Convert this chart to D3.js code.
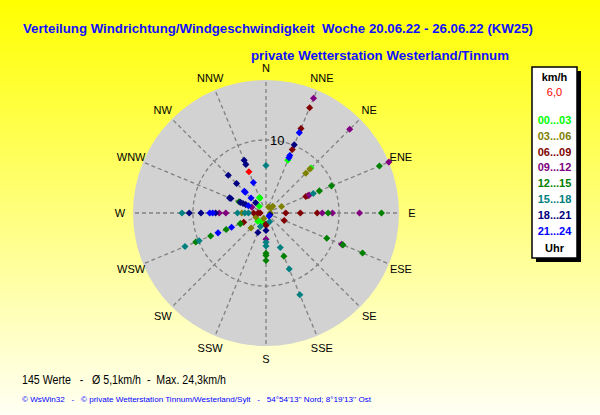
<!DOCTYPE html>
<html>
<head>
<meta charset="utf-8">
<script src="https://cdn.jsdelivr.net/npm/d3@7"></script>
<style>
  body { margin: 0; padding: 0; }
  svg { display: block; }
  text { font-family: "Liberation Sans", Arial, sans-serif; white-space: pre; }
</style>
</head>
<body>
<div id="viz"></div>
<script>
// compass directions, clockwise from N
var dirs = ["N","NNE","NE","ENE","E","ESE","SE","SSE","S","SSW","SW","WSW","W","WNW","NW","NNW"];

// wind speed (km/h) per direction, grouped by time of day
var h00_03 = [["NNE",7.8],["NE",8.7],["NNW",2.2],["NNW",2.3],["NW",1.3],["WSW",3.8],["SW",1.6],["SW",1.5],["SSW",1.3],["SSW",1.4]];
var h03_06 = [["NE",8.5],["NE",7.7],["ENE",2.3],["NNE",0.9],["NE",1.0],["NE",1.3],["W",3.3],["SW",2.9],["WSW",1.5],["E",0.6],["SSW",0.8]];
var h06_09 = [["NNE",15.6],["NNE",12.5],["NNE",9.4],["ENE",6.2],["ENE",5.9],["E",7.0],["E",4.7],["E",2.7],["ESE",2.7],
              ["W",1.7],["W",1.1],["W",0.8],["S",1.5],["S",1.7],["WSW",3.3]];
var h09_12 = [["NNE",17.0],["NE",16.2],["ENE",18.2],["ENE",6.4],["E",12.8],["E",9.1],["E",7.7],["ESE",11.2],["S",3.6],
              ["W",6.4],["W",5.5],["WNW",2.1]];
var h12_15 = [["ENE",16.8],["ENE",9.7],["ENE",7.9],["E",15.8],["E",8.5],["ESE",9.0],["ESE",11.4],["ESE",14.3],["SSE",6.4],
              ["S",5.5],["S",5.8],["S",6.5],["WSW",10.4],["WSW",8.2],["WSW",5.9],["WSW",3.8],["WNW",4.0]];
var h15_18 = [["N",6.5],["ENE",7.0],["SSE",5.1],["SSE",8.3],["SSE",12.1],["SSE",1.3],["S",4.0],["S",4.5],["SSW",2.0],
              ["W",11.5],["W",3.9],["W",2.9],["W",2.4],["WSW",12.0],["WSW",9.9]];
var h18_21 = [["NNE",10.1],["NNW",7.8],["NNW",7.2],["NW",7.3],["NW",5.7],["NW",2.0],["WNW",5.4],["WNW",5.2],["WNW",3.8],
              ["WNW",3.4],["WNW",3.0],["W",10.5],["W",8.9],["W",6.9],["SSW",2.9],["S",2.4],["ESE",0.6]];
var h21_24 = [["NNE",11.9],["NNE",8.5],["NNE",8.2],["NNW",4.5],["NW",4.2],["NW",4.0],["NW",2.9],["WNW",2.6],
              ["W",7.7],["W",7.3],["WSW",7.1],["WSW",5.1],["SE",0.6]];
var current = [["NNW",6.1]];

var classLabels = ["00...03","03...06","06...09","09...12","12...15","15...18","18...21","21...24"];
var classColors = ["#00ff00","#808000","#800000","#800080","#008000","#008080","#000080","#0000ff"];
var classData = [h00_03, h03_06, h06_09, h09_12, h12_15, h15_18, h18_21, h21_24];

var gridRings = [10];
var currentLabel = "6,0";
var title = "Verteilung Windrichtung/Windgeschwindigkeit  Woche 20.06.22 - 26.06.22 (KW25)";
var subtitle = "private Wetterstation Westerland/Tinnum";
var stats = "145 Werte   -   \u00d8 5,1km/h  -  Max. 24,3km/h";
var footer = "\u00a9 WsWin32   -   \u00a9 private Wetterstation Tinnum/Westerland/Sylt   -   54\u00b054'13'' Nord; 8\u00b019'13'' Ost";

var W = 600, H = 415;
var cx = 266, cy = 213, R = 133;

var svg = d3.select("#viz").append("svg").attr("width", W).attr("height", H);

var grad = svg.append("defs").append("linearGradient")
  .attr("id", "bg").attr("x1", 0).attr("y1", 0).attr("x2", 0).attr("y2", 1);
grad.append("stop").attr("offset", "0%").attr("stop-color", "#ffff00");
grad.append("stop").attr("offset", "100%").attr("stop-color", "#fffff4");
svg.append("rect").attr("width", W).attr("height", H).attr("fill", "url(#bg)");

// scales
var r = d3.scaleLinear().domain([0, 18.2]).range([0, R]).clamp(true);
var ang = d3.scaleLinear().domain([0, dirs.length]).range([0, 2 * Math.PI]);
function dirAngle(d) { return ang(dirs.indexOf(d)); }

var g = svg.append("g").attr("transform", "translate(" + cx + "," + cy + ")");

g.append("circle").attr("r", R).attr("fill", "#d2d2d2");

// grid
g.selectAll("line.spoke").data(dirs).enter().append("line")
  .attr("class", "spoke")
  .attr("x1", function(d) { return d3.pointRadial(dirAngle(d), 8)[0]; })
  .attr("y1", function(d) { return d3.pointRadial(dirAngle(d), 8)[1]; })
  .attr("x2", function(d) { return d3.pointRadial(dirAngle(d), R)[0]; })
  .attr("y2", function(d) { return d3.pointRadial(dirAngle(d), R)[1]; })
  .attr("stroke", "#808080").attr("stroke-width", 1.3).attr("stroke-dasharray", "4,3");

g.selectAll("circle.ring").data(gridRings).enter().append("circle")
  .attr("class", "ring")
  .attr("r", r).attr("fill", "none")
  .attr("stroke", "#808080").attr("stroke-width", 1.3).attr("stroke-dasharray", "4,3");

g.selectAll("text.ring").data(gridRings).enter().append("text")
  .attr("x", 4).attr("y", function(d) { return -r(d); })
  .attr("dy", "0.36em")
  .attr("font-size", 13).attr("fill", "#000")
  .text(function(d) { return d; });

// compass labels
g.selectAll("text.dir").data(dirs).enter().append("text")
  .attr("x", function(d) { return d3.pointRadial(dirAngle(d), 146)[0]; })
  .attr("y", function(d) { return d3.pointRadial(dirAngle(d), 146)[1] + (d === "N" ? 1 : 0); })
  .attr("dy", "0.36em").attr("text-anchor", "middle")
  .attr("font-size", 11).attr("fill", "#000")
  .text(function(d) { return d; });

// points
var dot = d3.symbol().type(d3.symbolSquare).size(25);
function plot(data, color) {
  g.append("g").selectAll("path").data(data).enter().append("path")
    .attr("d", dot)
    .attr("fill", color)
    .attr("transform", function(d) {
      var p = d3.pointRadial(dirAngle(d[0]), r(d[1]));
      return "translate(" + p[0] + "," + p[1] + ") rotate(45)";
    });
}
classData.forEach(function(data, i) { plot(data, classColors[i]); });
plot(current, "#ff0000");

// titles
svg.append("text").attr("x", 23).attr("y", 33)
  .attr("font-size", 13).attr("font-weight", "bold").attr("fill", "#1010ff")
  .attr("textLength", 510).attr("lengthAdjust", "spacingAndGlyphs")
  .text(title);
svg.append("text").attr("x", 251).attr("y", 60)
  .attr("font-size", 12.5).attr("font-weight", "bold").attr("fill", "#1010ff")
  .attr("textLength", 258).attr("lengthAdjust", "spacingAndGlyphs")
  .text(subtitle);

// legend
var lx = 532, ly = 67, lw = 45, lh = 191;
svg.append("rect").attr("x", lx + 4).attr("y", ly + 4).attr("width", lw).attr("height", lh).attr("fill", "#000");
svg.append("rect").attr("x", lx).attr("y", ly).attr("width", lw).attr("height", lh)
  .attr("fill", "#fff").attr("stroke", "#000").attr("stroke-width", 1.5);

var lcx = lx + lw / 2;
svg.append("text").attr("x", lcx).attr("y", 77).attr("dy", "0.36em").attr("text-anchor", "middle")
  .attr("font-size", 11).attr("font-weight", "bold").text("km/h");
svg.append("text").attr("x", lcx).attr("y", 92).attr("dy", "0.36em").attr("text-anchor", "middle")
  .attr("font-size", 11).attr("fill", "#ff0000").text(currentLabel);
svg.selectAll("text.leg").data(classLabels).enter().append("text")
  .attr("x", lcx).attr("y", function(d, i) { return 120 + i * 15.8; })
  .attr("dy", "0.36em").attr("text-anchor", "middle")
  .attr("font-size", 11).attr("font-weight", "bold")
  .attr("fill", function(d, i) { return classColors[i]; })
  .text(function(d) { return d; });
svg.append("text").attr("x", lcx).attr("y", 248).attr("dy", "0.36em").attr("text-anchor", "middle")
  .attr("font-size", 11).attr("font-weight", "bold").text("Uhr");

// footer
svg.append("text").attr("x", 22).attr("y", 380).attr("dy", "0.36em")
  .attr("font-size", 12).attr("fill", "#000")
  .attr("textLength", 204).attr("lengthAdjust", "spacingAndGlyphs")
  .text(stats);
svg.append("text").attr("x", 22).attr("y", 399).attr("dy", "0.36em")
  .attr("font-size", 8).attr("fill", "#0000ff")
  .attr("textLength", 349).attr("lengthAdjust", "spacingAndGlyphs")
  .text(footer);
</script>
</body>
</html>
